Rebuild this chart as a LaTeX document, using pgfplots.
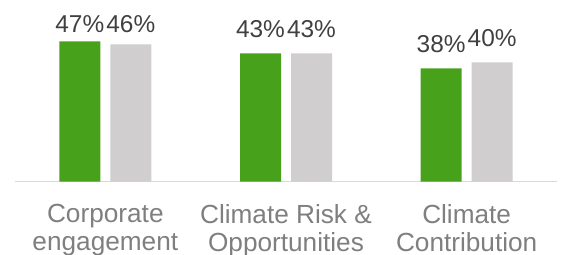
\documentclass[border=0pt]{standalone}
\usepackage{pgfplots}
\pgfplotsset{compat=1.18}
\usepackage{fontspec}
\setmainfont{Liberation Sans}
\definecolor{bargreen}{HTML}{48A11B}
\definecolor{bargrey}{HTML}{D0CECE}
\definecolor{lbldark}{HTML}{404040}
\definecolor{lblgrey}{HTML}{7F7F7F}
\definecolor{axisgrey}{HTML}{D9D9D9}
\begin{document}
\begin{tikzpicture}
\useasboundingbox (0,0) rectangle (562bp,255bp);
\begin{axis}[
  at={(15bp,73.5bp)}, anchor=south west,
  scale only axis, width=542bp, height=178.8bp,
  xmin=-0.5, xmax=2.5, ymin=0, ymax=60,
  clip=false,
  axis x line*=bottom, hide y axis,
  axis line style={-, draw=axisgrey, line width=1.5bp},
  xtick={0,1,2},
  xticklabels={{Corporate\\engagement},{Climate Risk \&\\Opportunities},{Climate\\Contribution}},
  major tick length=0pt,
  xticklabel style={font=\fontsize{26.3}{28}\selectfont, text=lblgrey, align=center, anchor=north, inner sep=0pt, yshift=-22.5bp},
  /pgf/number format/assume math mode=true,
  visualization depends on={y \as \yv},
  nodes near coords={\pgfmathprintnumber{\pgfplotspointmeta}\%},
  nodes near coords style={font=\fontsize{24.5}{28}\selectfont, text=lbldark, anchor=base, inner sep=0pt, yshift={min(16,149.2-2.98*\yv)}},
  bar width=41bp,
]
\addplot[ybar, fill=bargreen, draw=none, bar shift=-25.5bp, every node near coord/.append style={xshift=-25.5bp}] coordinates {(0,47) (1,43) (2,38)};
\addplot[ybar, fill=bargrey, draw=none, bar shift=25.5bp, every node near coord/.append style={xshift=25.5bp}] coordinates {(0,46) (1,43) (2,40)};
\end{axis}
\end{tikzpicture}
\end{document}
